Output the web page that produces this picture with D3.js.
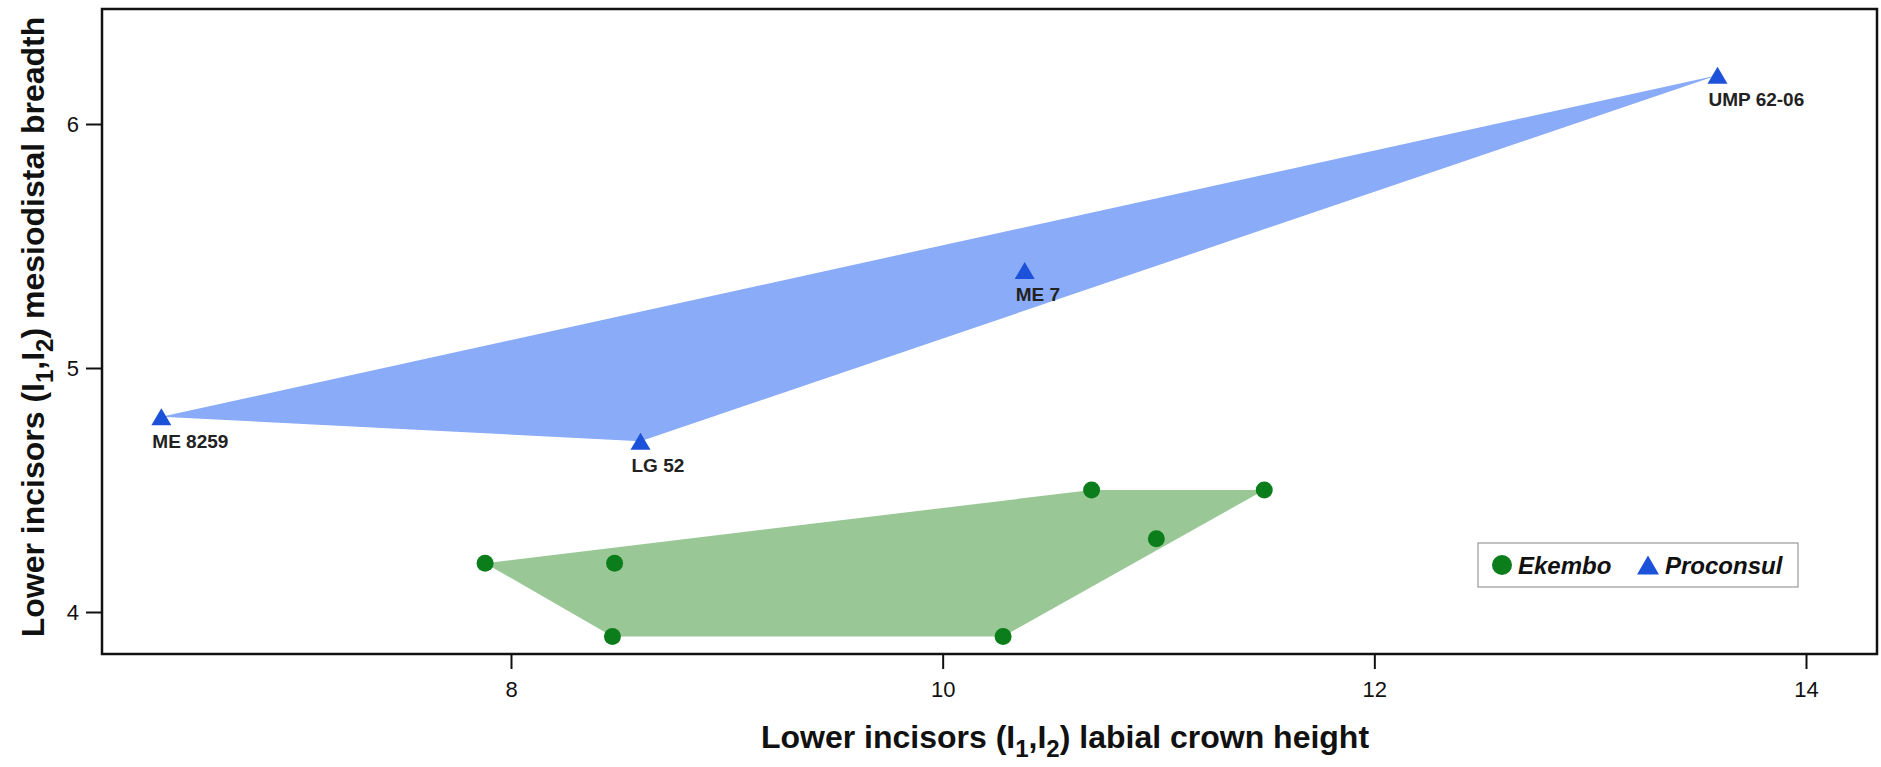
<!DOCTYPE html>
<html><head><meta charset="utf-8">
<script src="https://cdn.jsdelivr.net/npm/d3@7"></script>
<style>
body{margin:0;background:#fff;}
svg{display:block;}
text{font-family:"Liberation Sans",Arial,Helvetica,sans-serif;}
</style>
</head><body>
<svg id="c" width="1881" height="767"></svg>
<script>
// ---- data ----
const ekemboX = [7.88, 8.48, 8.47, 10.28, 10.69, 10.99, 11.49];
const ekemboY = [4.2, 4.2, 3.9, 3.9, 4.5, 4.3, 4.5];
const proconsulX = [6.38, 8.6, 10.38, 13.59];
const proconsulY = [4.8, 4.7, 5.4, 6.2];
const proconsulLabels = ["ME 8259", "LG 52", "ME 7", "UMP 62-06"];
const seriesNames = ["Ekembo", "Proconsul"];
const xTicks = [8, 10, 12, 14];
const yTicks = [4, 5, 6];

// ---- layout ----
const frame = {left: 102, right: 1877, top: 9, bottom: 654};
const svg = d3.select("#c");
const x = d3.scaleLinear().domain([8, 14]).range([511, 1806]);
const y = d3.scaleLinear().domain([4, 6]).range([612, 124]);

const colors = {
  ekFill: "#99c896", ekPt: "#0b7d1a",
  prFill: "#8aabf7", prPt: "#1c52da"
};

const ekPts = ekemboX.map((v, i) => [x(v), y(ekemboY[i])]);
const prPts = proconsulX.map((v, i) => [x(v), y(proconsulY[i])]);

// hulls
svg.append("path")
  .attr("d", "M" + d3.polygonHull(prPts).join("L") + "Z")
  .attr("fill", colors.prFill);
svg.append("path")
  .attr("d", "M" + d3.polygonHull(ekPts).join("L") + "Z")
  .attr("fill", colors.ekFill);

// axes
const gx = svg.append("g").attr("transform", `translate(0,${frame.bottom})`)
  .call(d3.axisBottom(x).tickValues(xTicks).tickSize(15).tickPadding(12).tickFormat(d3.format("d")));
gx.select(".domain").remove();
gx.selectAll("line").attr("stroke", "#111").attr("stroke-width", 2);
gx.selectAll("text").attr("font-size", 22).attr("fill", "#111")
  .style("font-family", '"Liberation Sans",Arial,sans-serif');

const gy = svg.append("g").attr("transform", `translate(${frame.left},0)`)
  .call(d3.axisLeft(y).tickValues(yTicks).tickSize(16).tickPadding(7).tickFormat(d3.format("d")));
gy.select(".domain").remove();
gy.selectAll("line").attr("stroke", "#111").attr("stroke-width", 2);
gy.selectAll("text").attr("font-size", 22).attr("fill", "#111")
  .style("font-family", '"Liberation Sans",Arial,sans-serif');

// frame
svg.append("rect")
  .attr("x", frame.left).attr("y", frame.top)
  .attr("width", frame.right - frame.left).attr("height", frame.bottom - frame.top)
  .attr("fill", "none").attr("stroke", "#111").attr("stroke-width", 2.5);

// points
svg.selectAll("circle.ek").data(ekPts).join("circle")
  .attr("class", "ek")
  .attr("cx", d => d[0]).attr("cy", d => d[1]).attr("r", 8.5)
  .attr("fill", colors.ekPt);

const tri = (w, h) => `M0,${-h/2}L${w/2},${h/2}L${-w/2},${h/2}Z`;
svg.selectAll("path.pr").data(prPts).join("path")
  .attr("class", "pr")
  .attr("d", tri(20, 17))
  .attr("transform", d => `translate(${d[0]},${d[1]})`)
  .attr("fill", colors.prPt);

svg.selectAll("text.lbl").data(prPts).join("text")
  .attr("class", "lbl")
  .attr("x", d => d[0] - 9).attr("y", d => d[1] + 31)
  .attr("font-size", 19).attr("font-weight", "bold").attr("fill", "#222")
  .text((d, i) => proconsulLabels[i]);

// axis titles
const xt = svg.append("text")
  .attr("x", 1065).attr("y", 748)
  .attr("text-anchor", "middle")
  .attr("font-size", 32).attr("font-weight", "bold").attr("fill", "#111");
xt.append("tspan").text("Lower incisors (I");
xt.append("tspan").attr("font-size", 24).attr("dy", 9).text("1");
xt.append("tspan").attr("dy", -9).text(",I");
xt.append("tspan").attr("font-size", 24).attr("dy", 9).text("2");
xt.append("tspan").attr("dy", -9).text(") labial crown height");

const yt = svg.append("text")
  .attr("transform", "translate(44,327) rotate(-90)")
  .attr("text-anchor", "middle")
  .attr("font-size", 32).attr("font-weight", "bold").attr("fill", "#111");
yt.append("tspan").text("Lower incisors (I");
yt.append("tspan").attr("font-size", 24).attr("dy", 9).text("1");
yt.append("tspan").attr("dy", -9).text(",I");
yt.append("tspan").attr("font-size", 24).attr("dy", 9).text("2");
yt.append("tspan").attr("dy", -9).text(") mesiodistal breadth");

// legend
const lg = svg.append("g").attr("transform", "translate(1478,543)");
lg.append("rect").attr("width", 320).attr("height", 44)
  .attr("fill", "#fff").attr("stroke", "#999").attr("stroke-width", 1.2);
lg.append("circle").attr("cx", 24).attr("cy", 22).attr("r", 10).attr("fill", colors.ekPt);
lg.append("text").attr("x", 40).attr("y", 31)
  .attr("font-size", 24).attr("font-weight", "bold").attr("font-style", "italic")
  .attr("fill", "#111").text(seriesNames[0]);
lg.append("path").attr("d", tri(22, 19)).attr("transform", "translate(170,22)").attr("fill", colors.prPt);
lg.append("text").attr("x", 187).attr("y", 31)
  .attr("font-size", 24).attr("font-weight", "bold").attr("font-style", "italic")
  .attr("fill", "#111").text(seriesNames[1]);
</script>
</body></html>
